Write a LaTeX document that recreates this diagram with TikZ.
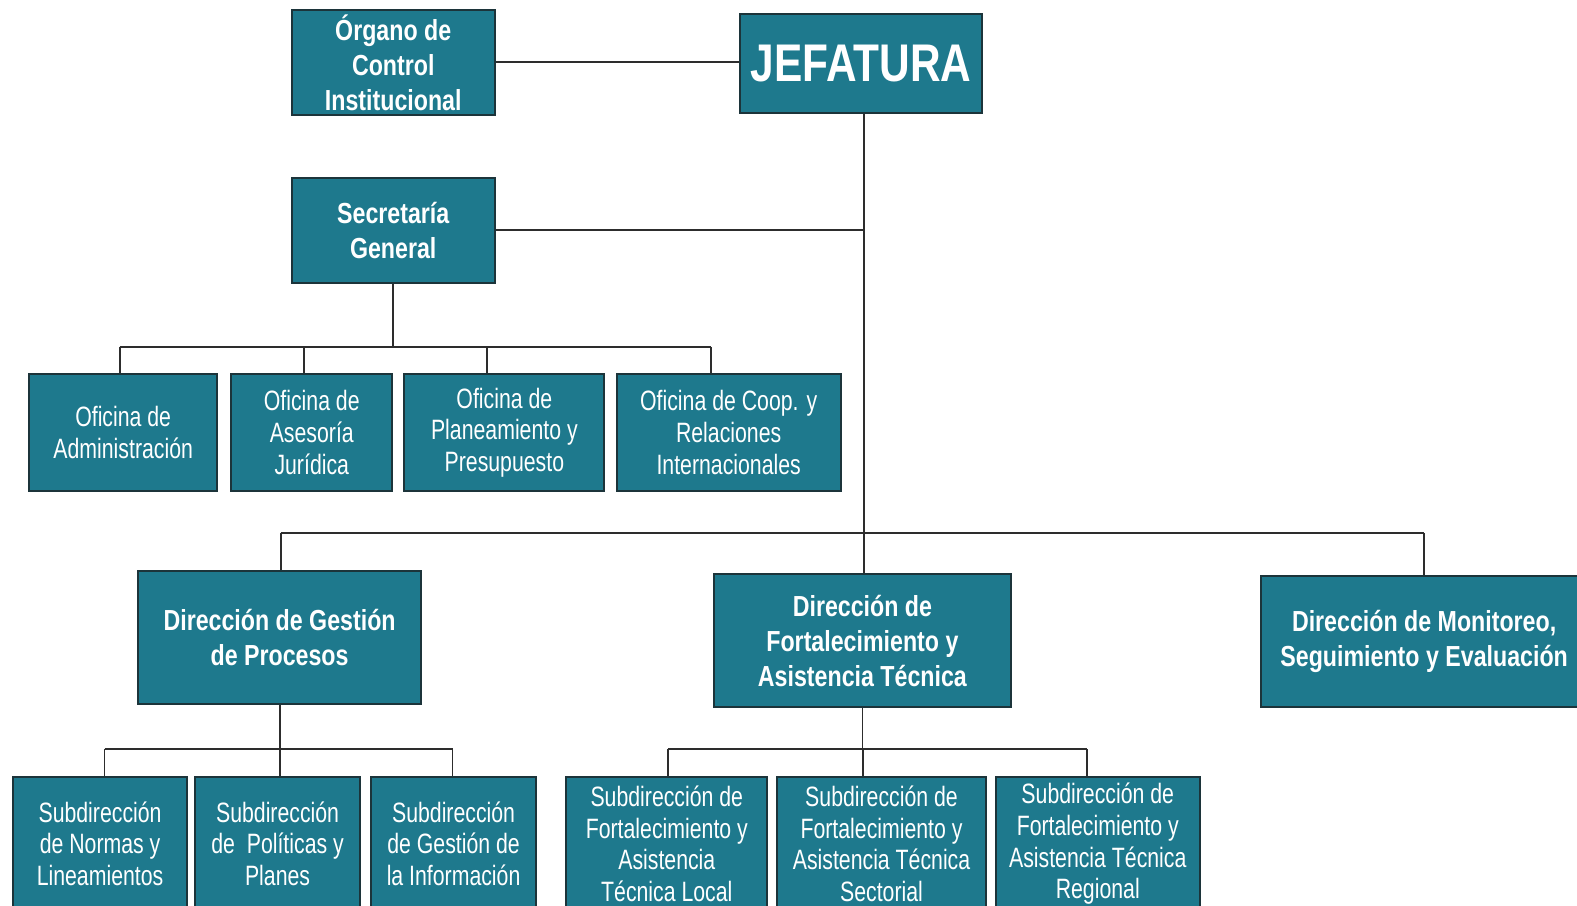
\documentclass[tikz,border=0pt]{standalone}
\usepackage{fontspec}
\setmainfont{Liberation Sans}
\newfontfamily\narrowfont[FakeStretch=0.76]{Liberation Sans}
\newfontfamily\headfont[FakeStretch=0.80]{Liberation Sans}
\usetikzlibrary{calc}

\definecolor{boxfill}{RGB}{30,121,141}
\definecolor{boxline}{RGB}{28,52,58}
\definecolor{wirecol}{RGB}{45,45,45}

% one drawing unit in pt
\newcommand{\px}{0.50287}

% \orgbox[style]{name}{x1}{y1}{x2}{y2}{text}
\newcommand{\orgbox}[7][]{%
  \pgfmathsetmacro\obw{(#5-#3)*\px}%
  \pgfmathsetmacro\obh{(#6-#4)*\px}%
  \node[box,#1,minimum width=\obw pt,minimum height=\obh pt] (#2)
    at ({(#3+#5)/2},{(#4+#6)/2}) {#7};}

\tikzset{
  box/.style={draw=boxline, line width=1pt, fill=boxfill, text=white,
    align=center, inner sep=0pt,
    font=\narrowfont\fontsize{14}{15.8}\selectfont},
  head/.style={font=\headfont\bfseries\fontsize{14.5}{17.5}\selectfont},
  chief/.style={font=\headfont\bfseries\fontsize{26.5}{30}\selectfont},
  wire/.style={draw=wirecol, line width=0.9pt},
}

\begin{document}
\begin{tikzpicture}[x=0.50287pt, y=-0.50287pt]
\useasboundingbox (0,0) rectangle (1568,900);
\fill[white] (0,0) rectangle (1568,900);
\clip (0,0) rectangle (1568,900);

% --- top level
\orgbox[head]{org}{290}{10}{492}{114}{Órgano de\\Control\\Institucional}
\orgbox[chief]{jef}{736}{14}{976}{112}{JEFATURA}
\orgbox[head]{sec}{290}{177}{492}{281}{Secretaría\\General}

% --- offices under the general secretariat
\orgbox{adm}{29}{372}{216}{488}{Oficina de\\Administración}
\orgbox{ase}{230}{372}{390}{488}{Oficina de\\Asesoría\\Jurídica}
\orgbox{pla}{402}{372}{601}{488}{Oficina de\\Planeamiento y\\Presupuesto}
\orgbox{coop}{613}{372}{836}{488}{Oficina de Coop. y\\Relaciones\\Internacionales}

% --- directorates
\orgbox[head]{dgp}{137}{568}{419}{700}{Dirección de Gestión\\de Procesos}
\orgbox[head]{dfat}{710}{571}{1005}{703}{Dirección de\\Fortalecimiento y\\Asistencia Técnica}
\orgbox[head]{dmse}{1254}{573}{1578}{703}{Dirección de Monitoreo,\\Seguimiento y Evaluación}

% --- sub-directorates
\orgbox{s1}{13}{773}{186}{905}{Subdirección\\de Normas y\\Lineamientos}
\orgbox{s2}{194}{773}{358}{905}{Subdirección\\de \ Políticas y\\Planes}
\orgbox{s3}{369}{773}{533}{905}{Subdirección\\de Gestión de\\la Información}
\orgbox{t1}{563}{773}{763}{905}{Subdirección de\\Fortalecimiento y\\Asistencia\\Técnica Local}
\orgbox{t2}{773}{773}{980}{905}{Subdirección de\\Fortalecimiento y\\Asistencia Técnica\\Sectorial}
\orgbox{t3}{990}{773}{1193}{905}{Subdirección de\\Fortalecimiento y\\Asistencia Técnica\\Regional}

% --- main trunk
\coordinate (trunk) at (859,530);
\draw[wire] (org.east) -- (org.east -| jef.west);
\draw[wire] (jef.south -| trunk) -- (trunk);
\draw[wire] (sec.east) -- (sec.east -| trunk);

% --- offices bus
\coordinate (busA) at ($(sec.south)+(0,63)$);
\coordinate (dAdm) at ($(adm.north)+(-3.5,0)$);
\coordinate (dAse) at ($(ase.north)+(-8,0)$);
\coordinate (dPla) at ($(pla.north)+(-17.5,0)$);
\coordinate (dCoop) at ($(coop.north)+(-17.5,0)$);
\draw[wire] (sec.south) -- (busA);
\draw[wire] (dAdm |- busA) -- (dCoop |- busA);
\foreach \d in {dAdm,dAse,dPla,dCoop}
  \draw[wire] (\d |- busA) -- (\d);

% --- directorates bus
\coordinate (dDgp) at ($(dgp.north)+(1,0)$);
\coordinate (dDm) at ($(dmse.north)+(0,0)$);
\draw[wire] (dDgp |- trunk) -- (dDm |- trunk);
\draw[wire] (dDgp |- trunk) -- (dDgp);
\draw[wire] (trunk) -- (trunk |- dfat.north);
\draw[wire] (dDm |- trunk) -- (dDm);

% --- sub-directorates of Gestión de Procesos
\coordinate (busB) at ($(dgp.south)+(0,44)$);
\coordinate (dS1) at ($(s1.north)+(4.5,0)$);
\coordinate (dS2) at ($(s2.north)+(2,0)$);
\coordinate (dS3) at ($(s3.north)+(-1,0)$);
\draw[wire] (dgp.south) -- (busB);
\draw[wire] (dS1 |- busB) -- (dS3 |- busB);
\foreach \d in {dS1,dS2,dS3}
  \draw[wire] (\d |- busB) -- (\d);

% --- sub-directorates of Fortalecimiento
\coordinate (busC) at ($(dfat.south)+(0,41)$);
\coordinate (dT1) at ($(t1.north)+(1,0)$);
\coordinate (dT2) at ($(t2.north)+(-18.5,0)$);
\coordinate (dT3) at ($(t3.north)+(-10.5,0)$);
\draw[wire] (dfat.south) -- (busC);
\draw[wire] (dT1 |- busC) -- (dT3 |- busC);
\foreach \d in {dT1,dT2,dT3}
  \draw[wire] (\d |- busC) -- (\d);
\end{tikzpicture}
\end{document}
